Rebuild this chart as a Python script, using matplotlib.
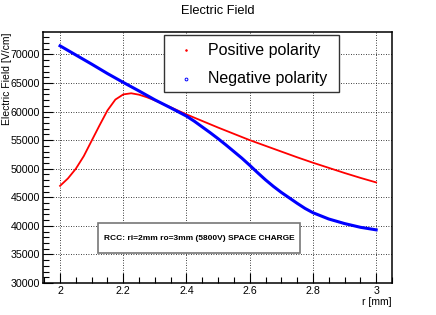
import matplotlib
matplotlib.use("Agg")
import matplotlib.pyplot as plt
from matplotlib.ticker import MultipleLocator

plt.rcParams['font.family'] = ['Liberation Sans', 'DejaVu Sans']

title = "Electric Field"
xlabel = "r [mm]"
ylabel = "Electric Field [V/cm]"
note = "RCC: ri=2mm ro=3mm (5800V) SPACE CHARGE"
labels = ["Positive polarity", "Negative polarity"]

r_pos = [2.0, 2.025, 2.05, 2.075, 2.1, 2.125, 2.15, 2.175, 2.2, 2.225, 2.25, 2.275,
         2.3, 2.35, 2.4, 2.45, 2.5, 2.55, 2.6, 2.65, 2.7, 2.75, 2.8, 2.85, 2.9, 2.95, 3.0]
e_pos = [47000, 48300, 50000, 52200, 54900, 57600, 60200, 62100, 63000, 63200, 62950, 62500,
         61950, 60750, 59500, 58350, 57200, 56100, 55000, 54000, 53000, 52000, 51050, 50150, 49250, 48400, 47600]

r_neg = [2.0, 2.05, 2.1, 2.15, 2.2, 2.25, 2.3, 2.35, 2.4, 2.425, 2.45, 2.475, 2.5, 2.525, 2.55, 2.575,
         2.6, 2.625, 2.65, 2.675, 2.7, 2.725, 2.75, 2.775, 2.8, 2.85, 2.9, 2.95, 3.0]
e_neg = [71500, 69900, 68300, 66650, 65100, 63600, 62050, 60650, 59200, 58300, 57300, 56300, 55250, 54150, 53000, 51850,
         50600, 49300, 48050, 46900, 45850, 44900, 43950, 43050, 42300, 41200, 40400, 39750, 39300]

fig = plt.figure(figsize=(4.36, 3.15), dpi=100)
ax = fig.add_axes([0.0986, 0.1016, 0.8004, 0.7964])

ax.plot(r_pos, e_pos, color='#ff0000', lw=1.3, zorder=3)
ax.plot(r_neg, e_neg, color='#0000ff', lw=2.2, zorder=3)

ax.set_xlim(1.946, 3.05)
ax.set_ylim(30000, 73900)
ax.xaxis.set_major_locator(MultipleLocator(0.2))
ax.xaxis.set_minor_locator(MultipleLocator(0.05))
ax.yaxis.set_major_locator(MultipleLocator(5000))
ax.yaxis.set_minor_locator(MultipleLocator(1000))
ax.xaxis.set_major_formatter(matplotlib.ticker.FuncFormatter(lambda v, p: f"{v:g}"))
ax.tick_params(which='both', direction='in', top=False, right=False, labelsize=7.7, width=0.8)
ax.tick_params(which='major', length=7)
ax.tick_params(which='minor', length=4)
ax.tick_params(axis='x', pad=2.5)
ax.tick_params(axis='y', pad=2)
ax.grid(True, which='major', color='#000000', ls=(0, (1, 2)), lw=0.6)
for s in ax.spines.values():
    s.set_linewidth(1.1)

fig.text(0.5, 0.965, title, ha='center', va='center', fontsize=9.3)
fig.text(0.899, 1 - 302/315, xlabel, ha='right', va='center', fontsize=7.5)
fig.text(0.015, 0.898, ylabel, ha='center', va='top', rotation=90, fontsize=7.5)

# legend
from matplotlib.patches import Rectangle
lx0, lx1, ly0, ly1 = 164/436, 339/436, 1-92/315, 1-35/315
fig.patches.append(Rectangle((lx0, ly0), lx1-lx0, ly1-ly0, transform=fig.transFigure,
                             facecolor='white', edgecolor='#333333', lw=1.0, zorder=5))
for i, (lab, col, mk) in enumerate(zip(labels, ['#ff0000', '#0000ff'], ['.', 'o'])):
    yy = 1 - (50 + 29*i)/315
    fig.lines.append(matplotlib.lines.Line2D([186/436], [yy], transform=fig.transFigure,
                                             marker=mk, color=col, ms=2.2 if mk == '.' else 2.0,
                                             mfc=col if mk == '.' else 'none', mew=0.7, ls='none', zorder=6))
    fig.text(208/436, yy, lab, ha='left', va='center', fontsize=11.5, zorder=6)

# note box
bx0, bx1, by0, by1 = 98/436, 300/436, 1-253/315, 1-223/315
fig.patches.append(Rectangle((bx0, by0), bx1-bx0, by1-by0, transform=fig.transFigure,
                             facecolor='white', edgecolor='#777777', lw=1.2, zorder=5))
fig.text((bx0+bx1)/2, (by0+by1)/2, note, ha='center', va='center', fontsize=6, fontweight='bold', zorder=6)

fig.savefig("out.png", dpi=100)
